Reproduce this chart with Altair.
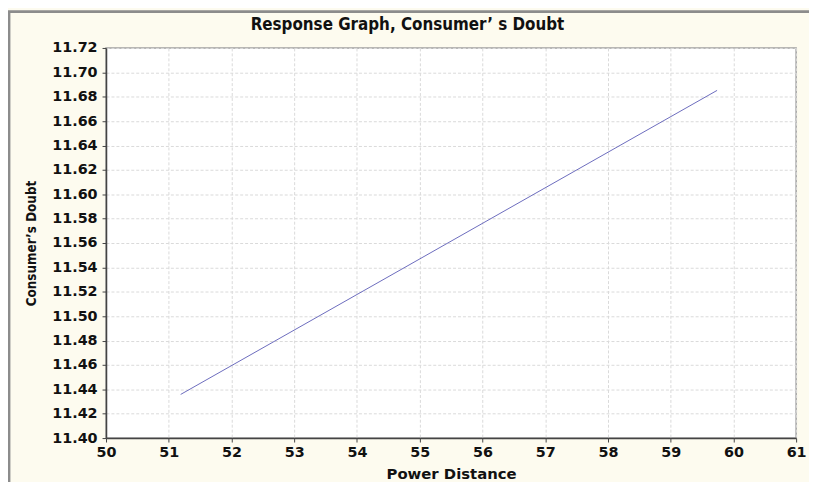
import altair as alt
import pandas as pd

# Data
power_distance = [51.19, 59.74]
consumers_doubt = [11.4358, 11.6852]

x_ticks = [50, 51, 52, 53, 54, 55, 56, 57, 58, 59, 60, 61]
y_ticks = [11.40, 11.42, 11.44, 11.46, 11.48, 11.50, 11.52, 11.54, 11.56,
           11.58, 11.60, 11.62, 11.64, 11.66, 11.68, 11.70, 11.72]

df = pd.DataFrame({"pd": power_distance, "cd": consumers_doubt})

W, H = 697, 394
LABEL_FONT = "DejaVu Sans"
COND_FONT = "DejaVu Sans Condensed"

line = alt.Chart(df).mark_line(color="#6b6bbd", strokeWidth=1).encode(
    x=alt.X("pd:Q",
            scale=alt.Scale(domain=[50, 61], nice=False, zero=False),
            axis=alt.Axis(values=x_ticks, format="d", title="Power Distance",
                          titleFont=LABEL_FONT, titleFontSize=15, titleFontWeight="bold",
                          titleColor="#111", titleY=40.5, titleBaseline="alphabetic",
                          labelFont=LABEL_FONT, labelFontSize=14.5, labelFontWeight="bold",
                          labelColor="#111", labelPadding=4, tickSize=4,
                          tickColor="#444", domainColor="#444", domainWidth=1.5,
                          gridColor="#dadada", gridDash=[3, 2], gridWidth=1,
                          labelFlush=False)),
    y=alt.Y("cd:Q",
            scale=alt.Scale(domain=[11.40, 11.72], nice=False, zero=False),
            axis=alt.Axis(values=y_ticks, format=".2f", title="Consumer’s Doubt",
                          titleFont=COND_FONT, titleFontSize=13.5, titleFontWeight="bold",
                          titleColor="#111", titleAngle=270, titleX=-71, titleY=H / 2,
                          titleBaseline="alphabetic", titleAlign="center",
                          labelFont=LABEL_FONT, labelFontSize=14.5, labelFontWeight="bold",
                          labelColor="#111", labelPadding=5, tickSize=4,
                          tickColor="#444", domainColor="#444", domainWidth=1.5,
                          gridColor="#dadada", gridDash=[3, 2], gridWidth=1)),
)

# outer frame (top and left edges)
frame_top = alt.Chart(df).mark_rule(color="#8c8c8c", strokeWidth=2.5).encode(
    x=alt.value(-99), x2=alt.value(W + 20), y=alt.value(-36.5))
frame_left = alt.Chart(df).mark_rule(color="#8c8c8c", strokeWidth=2.5).encode(
    x=alt.value(-98), y=alt.value(-37), y2=alt.value(H + 60))

chart = alt.layer(frame_top, frame_left, line).properties(
    width=W, height=H,
    title=alt.TitleParams("Response Graph, Consumer’ s Doubt", font=COND_FONT,
                          fontSize=17, fontWeight="bold", color="#111",
                          anchor="middle", dx=-44, dy=37, offset=13),
    autosize=alt.AutoSizeParams(type="none"),
    padding={"left": 99, "top": 38, "right": 13, "bottom": 42},
).configure(background="#fdfbef").configure_view(
    stroke="#a0a0a0", strokeWidth=1.5, fill="white"
)

chart.save("out.html", embed_options={"renderer": "svg", "actions": False})
